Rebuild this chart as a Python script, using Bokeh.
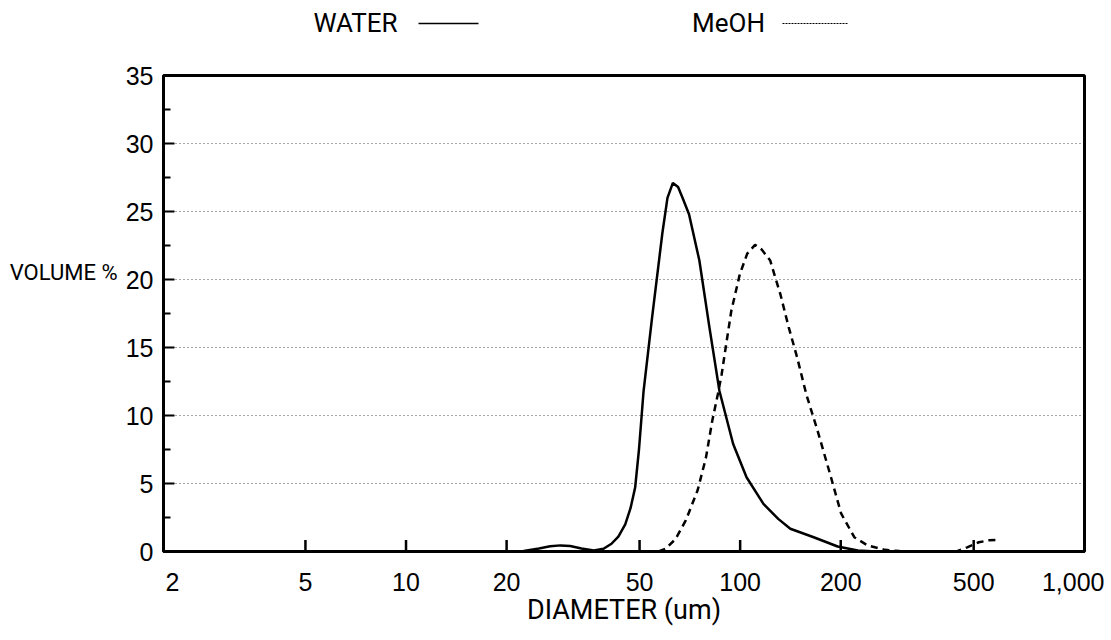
from bokeh.plotting import figure
from bokeh.models import Range1d, FixedTicker, NumeralTickFormatter
from bokeh.layouts import column, row
from bokeh.embed import file_html
from bokeh.resources import INLINE
from bokeh.core.properties import value

# ---- data ----
water_d = [20, 22.5, 25, 27, 29, 31, 33.5, 36.5, 39, 41.2, 43.2, 45.3, 47, 48.5, 49.8,
           51.4, 54.5, 58.5, 60.6, 62.9, 65.2, 67.5, 70.3, 75.5, 80.9, 86.7, 95.3,
           104.5, 117.4, 130, 141.3, 166, 195.8, 225, 255, 300]
water_v = [0, 0.03, 0.22, 0.38, 0.45, 0.40, 0.22, 0.08, 0.2, 0.57, 1.1, 2.0, 3.2, 4.7, 7.5,
           11.8, 17.2, 23.4, 26.0, 27.1, 26.8, 25.9, 24.8, 21.4, 16.5, 11.8, 7.9,
           5.46, 3.5, 2.4, 1.67, 1.05, 0.37, 0.07, 0.0, 0.0]

meoh_d = [57, 59.8, 64, 68.8, 74.6, 79, 82.5, 85.8, 88, 90, 94.1, 99.8, 105, 110.8, 116,
          123, 132, 139.7, 148, 158, 170.4, 187, 200.5, 219.6, 241, 271, 300, 350, 430,
          446, 478, 518, 555, 588]
meoh_v = [0, 0.2, 0.9, 2.3, 4.5, 6.9, 9.6, 11.6, 13.0, 14.6, 17.7, 20.4, 21.9, 22.55, 22.2,
          21.4, 18.9, 16.5, 14.3, 11.5, 8.9, 5.46, 2.8, 1.05, 0.44, 0.12, 0.03, 0, 0,
          0.02, 0.3, 0.68, 0.82, 0.86]

x_ticks = [2, 5, 10, 20, 50, 100, 200, 500, 1000]
x_inner_ticks = [5, 10, 20, 50, 100, 200, 500]
y_ticks = [0, 5, 10, 15, 20, 25, 30, 35]
y_minor = [2.5, 7.5, 12.5, 17.5, 22.5, 27.5, 32.5]
series_names = ["WATER", "MeOH"]
y_title = "VOLUME %"
x_title = "DIAMETER (um)"

FONT = "Liberation Sans"
NARROW = "Roboto"

FW, FH = 921, 476
LEFT_STRIP = 120
BL, BR, BT, BB = 43, 20, 17, 85
TICK_LEN = 0.85  # inward tick length on the x axis, in y units

# ---- legend strip (above) ----
leg = figure(frame_width=FW, frame_height=58, x_range=Range1d(163, 163 + FW), y_range=Range1d(0, 58),
             output_backend="svg", toolbar_location=None,
             min_border_left=LEFT_STRIP + BL, min_border_right=BR, min_border_top=0, min_border_bottom=0)
leg.axis.visible = False
leg.grid.visible = False
leg.outline_line_color = None
leg.text(x=[355, 728], y=[36, 36], text=series_names, text_font=value(NARROW),
         text_font_size="26px", text_align="center", text_baseline="middle", text_color="black")
leg.line(x=[418, 478], y=[35, 35], line_color="black", line_width=1.5)
leg.line(x=[782, 847], y=[35, 35], line_color="black", line_width=1.2, line_dash="2 1")

# ---- y title strip (left) ----
yl = figure(frame_width=LEFT_STRIP, frame_height=FH, x_range=Range1d(0, LEFT_STRIP), y_range=Range1d(0, 35),
            output_backend="svg", toolbar_location=None,
            min_border_left=0, min_border_right=0, min_border_top=BT, min_border_bottom=BB)
yl.axis.visible = False
yl.grid.visible = False
yl.outline_line_color = None
yl.text(x=[117], y=[20.5], text=[y_title], text_font=value(NARROW), text_font_size="22px",
        text_align="right", text_baseline="middle", text_color="black")

# ---- main plot ----
p = figure(x_axis_type="log", frame_width=FW, frame_height=FH,
           x_range=Range1d(1.88, 1073), y_range=Range1d(0, 35),
           output_backend="svg", toolbar_location=None,
           min_border_left=BL, min_border_right=BR, min_border_top=BT, min_border_bottom=BB)

p.line(water_d, water_v, line_color="black", line_width=2.5)
p.line(meoh_d, meoh_v, line_color="black", line_width=2.5, line_dash="7 5")

# inward tick marks on the x axis (none drawn at the 2 and 1,000 ends)
p.multi_line(xs=[[t, t] for t in x_inner_ticks], ys=[[0, TICK_LEN] for t in x_inner_ticks],
             line_color="black", line_width=2.5)

p.outline_line_color = "black"
p.outline_line_width = 3
p.xgrid.visible = False
p.ygrid.ticker = FixedTicker(ticks=[5, 10, 15, 20, 25, 30])
p.ygrid.grid_line_color = "black"
p.ygrid.grid_line_dash = "1 3"
p.ygrid.grid_line_width = 1
p.ygrid.grid_line_alpha = 0.7

p.xaxis.ticker = FixedTicker(ticks=x_ticks)
p.xaxis.formatter = NumeralTickFormatter(format="0,0")
p.yaxis.ticker = FixedTicker(ticks=y_ticks, minor_ticks=y_minor)

for ax in (p.xaxis, p.yaxis):
    ax.axis_line_color = "black"
    ax.axis_line_width = 3
    ax.major_tick_out = 0
    ax.major_tick_line_width = 2
    ax.major_tick_line_color = "black"
    ax.major_label_text_font = FONT
    ax.major_label_text_font_size = "25px"
    ax.major_label_text_color = "black"
p.xaxis.major_tick_in = 0
p.yaxis.major_tick_in = 11
p.xaxis.minor_tick_line_color = None
p.yaxis.minor_tick_in = 7
p.yaxis.minor_tick_out = 0
p.yaxis.minor_tick_line_width = 2
p.yaxis.minor_tick_line_color = "black"
p.xaxis.major_label_standoff = 21
p.yaxis.major_label_standoff = 10

p.xaxis.axis_label = x_title
p.xaxis.axis_label_text_font = NARROW
p.xaxis.axis_label_text_font_style = "normal"
p.xaxis.axis_label_text_font_size = "27px"
p.xaxis.axis_label_text_color = "black"
p.xaxis.axis_label_standoff = 0

layout = column(leg, row(yl, p, spacing=0), spacing=0)
open("out.html", "w").write(file_html(layout, INLINE))
